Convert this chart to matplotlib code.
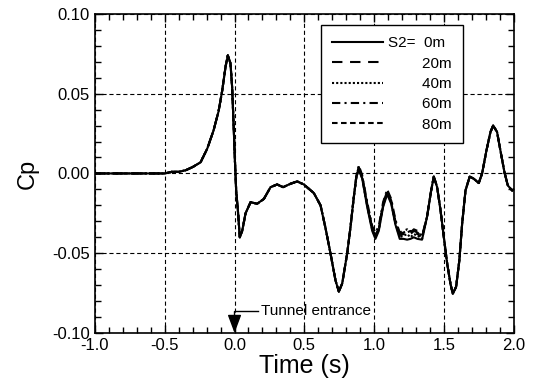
import numpy as np
import matplotlib
matplotlib.use('Agg')
import matplotlib.pyplot as plt
from matplotlib.ticker import MultipleLocator

plt.rcParams['font.family'] = ['Liberation Sans', 'DejaVu Sans']
plt.rcParams['lines.scale_dashes'] = False

# part of the curve shared by all five runs (before the first fork)
t_head = [-1.0, -0.5, -0.45, -0.40, -0.35, -0.30, -0.243, -0.195, -0.15, -0.114,
          -0.088, -0.064, -0.048, -0.029, -0.017, -0.005, 0.002, 0.012, 0.024, 0.038,
          0.055, 0.079, 0.115, 0.162, 0.21, 0.258, 0.305, 0.348, 0.40, 0.449,
          0.496, 0.568, 0.616, 0.651, 0.687, 0.723, 0.747, 0.771, 0.807, 0.830, 0.854]
cp_head = [0.0, 0.0, 0.001, 0.001, 0.002, 0.004, 0.007, 0.0156, 0.027, 0.039,
           0.052, 0.067, 0.074, 0.069, 0.054, 0.027, 0.010, -0.011, -0.023, -0.040,
           -0.036, -0.025, -0.018, -0.019, -0.016, -0.0086, -0.0069, -0.0086, -0.0065, -0.005,
           -0.0069, -0.0123, -0.020, -0.034, -0.050, -0.067, -0.074, -0.069, -0.050, -0.034, -0.015]

# middle part where the runs differ slightly
t_mid = [0.873, 0.890, 0.914, 0.95, 0.986, 1.009, 1.033, 1.064, 1.093, 1.122,
         1.152, 1.183, 1.21, 1.236, 1.26, 1.284, 1.31, 1.343]
cp_mid_0 = [-0.002, 0.002, -0.003, -0.021, -0.036, -0.041, -0.036, -0.021, -0.013, -0.019,
            -0.032, -0.041, -0.041, -0.0415, -0.041, -0.040, -0.041, -0.0415]
cp_mid_20 = [-0.001, 0.004, -0.002, -0.019, -0.034, -0.039, -0.034, -0.019, -0.011, -0.017,
             -0.030, -0.038, -0.037, -0.036, -0.038, -0.036, -0.037, -0.040]
cp_mid_40 = [-0.002, 0.003, -0.002, -0.020, -0.035, -0.040, -0.035, -0.020, -0.012, -0.018,
             -0.031, -0.040, -0.039, -0.038, -0.040, -0.038, -0.039, -0.041]
cp_mid_60 = [-0.001, 0.005, -0.001, -0.018, -0.033, -0.037, -0.033, -0.018, -0.010, -0.016,
             -0.029, -0.037, -0.036, -0.035, -0.037, -0.035, -0.036, -0.039]
cp_mid_80 = [-0.002, 0.003, -0.003, -0.020, -0.035, -0.039, -0.035, -0.020, -0.012, -0.018,
             -0.031, -0.039, -0.038, -0.037, -0.036, -0.037, -0.038, -0.040]

# shared tail
t_tail = [1.379, 1.408, 1.427, 1.451, 1.475, 1.499, 1.523, 1.546, 1.563, 1.587,
          1.61, 1.63, 1.654, 1.684, 1.713, 1.749, 1.773, 1.804, 1.833, 1.852,
          1.88, 1.904, 1.933, 1.957, 1.988, 2.0]
cp_tail = [-0.027, -0.0107, -0.002, -0.0086, -0.023, -0.040, -0.0566, -0.069, -0.0754, -0.071,
           -0.0545, -0.0315, -0.0107, -0.002, -0.0033, -0.006, 0.0, 0.0144, 0.026, 0.030,
           0.026, 0.0144, 0.0008, -0.0075, -0.0107, -0.010]

labels = ['S2=  0m', '        20m', '        40m', '        60m', '        80m']
mids = [cp_mid_0, cp_mid_20, cp_mid_40, cp_mid_60, cp_mid_80]
styles = ['-', (0, (7.5, 5.5)), (0, (1.5, 1.5)), (0, (6, 3, 1.5, 3)), (0, (4, 2.5))]

t = t_head + t_mid + t_tail

fig = plt.figure(figsize=(5.33, 3.85), dpi=100)
ax = fig.add_axes([0.178, 0.135, 0.786, 0.829])

for lab, mid, ls in zip(labels, mids, styles):
    ax.plot(t, cp_head + mid + cp_tail, color='black', lw=1.5, linestyle=ls, label=lab)

ax.set_xlim(-1.0, 2.0)
ax.set_ylim(-0.10, 0.10)
ax.xaxis.set_major_locator(MultipleLocator(0.5))
ax.xaxis.set_minor_locator(MultipleLocator(0.1))
ax.yaxis.set_major_locator(MultipleLocator(0.05))
ax.yaxis.set_minor_locator(MultipleLocator(0.01))
ax.xaxis.set_major_formatter(plt.FuncFormatter(lambda v, p: '%.1f' % v))
ax.yaxis.set_major_formatter(plt.FuncFormatter(lambda v, p: '%.2f' % v))
ax.tick_params(which='both', direction='in', top=True, right=True, labelsize=12, width=1)
ax.tick_params(which='major', length=6)
ax.tick_params(which='minor', length=4)
for s in ax.spines.values():
    s.set_linewidth(1.2)

ax.grid(True, which='major', color='black', linestyle=(0, (3, 2)), linewidth=0.8)

ax.set_xlabel('Time (s)', fontsize=18, labelpad=1)
ax.set_ylabel('Cp', fontsize=17, labelpad=10)

# tunnel entrance marker
ax.annotate('', xy=(0.0, -0.1), xytext=(0.0, -0.0865),
            arrowprops=dict(arrowstyle='-|>,head_length=0.8,head_width=0.3', color='black',
                            lw=1.0, shrinkA=0, shrinkB=0, mutation_scale=14))
ax.plot([0.0, 0.165], [-0.0865, -0.0865], color='black', lw=1.0)
ax.text(0.19, -0.0865, 'Tunnel entrance', fontsize=11, va='center', ha='left')

leg = ax.legend(loc='upper left', bbox_to_anchor=(0.539, 0.966), fontsize=11,
                fancybox=False, edgecolor='black', framealpha=1, handlelength=3.3,
                labelspacing=0.42, borderpad=0.75, handletextpad=0.35, borderaxespad=0)
leg.get_frame().set_linewidth(1.0)

fig.savefig('out.png', dpi=100)
